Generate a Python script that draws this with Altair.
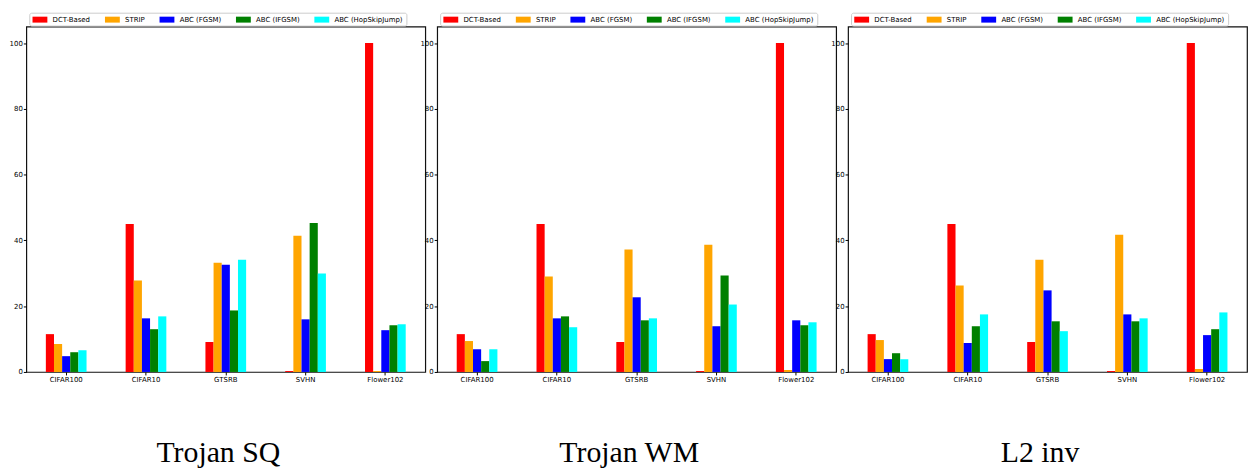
import altair as alt
import pandas as pd

datasets = ["CIFAR100", "CIFAR10", "GTSRB", "SVHN", "Flower102"]
methods = ["DCT-Based", "STRIP", "ABC (FGSM)", "ABC (IFGSM)", "ABC (HopSkipJump)"]
colors = ["#ff0000", "#ffa500", "#0000ff", "#008000", "#00ffff"]
panel_titles = ["Trojan SQ", "Trojan WM", "L2 inv"]

# Trojan SQ
sq_dct = [11.5, 45.0, 9.1, 0.3, 100.0]
sq_strip = [8.5, 27.8, 33.2, 41.4, 0.3]
sq_fgsm = [4.8, 16.3, 32.6, 16.0, 12.7]
sq_ifgsm = [6.0, 13.0, 18.7, 45.3, 14.2]
sq_hop = [6.6, 16.9, 34.1, 29.9, 14.5]

# Trojan WM
wm_dct = [11.5, 45.0, 9.1, 0.3, 100.0]
wm_strip = [9.4, 29.0, 37.2, 38.7, 0.6]
wm_fgsm = [6.9, 16.3, 22.7, 13.9, 15.7]
wm_ifgsm = [3.3, 16.9, 15.7, 29.3, 14.2]
wm_hop = [6.9, 13.6, 16.3, 20.5, 15.1]

# L2 inv
l2_dct = [11.5, 45.0, 9.1, 0.3, 100.0]
l2_strip = [9.7, 26.3, 34.1, 41.7, 0.9]
l2_fgsm = [3.9, 8.8, 24.8, 17.5, 11.2]
l2_ifgsm = [5.7, 13.9, 15.4, 15.4, 13.0]
l2_hop = [3.9, 17.5, 12.4, 16.3, 18.1]

panels = [
    [sq_dct, sq_strip, sq_fgsm, sq_ifgsm, sq_hop],
    [wm_dct, wm_strip, wm_fgsm, wm_ifgsm, wm_hop],
    [l2_dct, l2_strip, l2_fgsm, l2_ifgsm, l2_hop],
]

FONT = "DejaVu Sans"
W, H = 402, 348


def make_panel(series, title):
    rows = []
    for m, vals in zip(methods, series):
        for d, v in zip(datasets, vals):
            rows.append({"dataset": d, "method": m, "value": v})
    df = pd.DataFrame(rows)
    return alt.Chart(df).mark_bar(stroke=None).encode(
        x=alt.X(
            "dataset:N",
            sort=datasets,
            scale=alt.Scale(paddingInner=0.49, paddingOuter=0.245),
            axis=alt.Axis(
                title=title,
                titleFont="Liberation Serif",
                titleFontSize=30,
                titleFontWeight="normal",
                titleColor="#000000",
                titleY=90,
                titleX=W / 2 - 8,
                titleBaseline="alphabetic",
                labelAngle=0,
                labelFont=FONT,
                labelFontSize=7,
                labelColor="#000000",
                labelPadding=1,
                tickSize=3,
                tickColor="#000000",
                domain=False,
            ),
        ),
        xOffset=alt.XOffset(
            "method:N",
            scale=alt.Scale(domain=methods, paddingInner=0, paddingOuter=0),
        ),
        y=alt.Y(
            "value:Q",
            scale=alt.Scale(domain=[0, 105], nice=False),
            axis=alt.Axis(
                title=None,
                values=[0, 20, 40, 60, 80, 100],
                grid=False,
                domain=False,
                labelFont=FONT,
                labelFontSize=7,
                labelColor="#000000",
                labelPadding=1,
                tickSize=3,
                tickColor="#000000",
            ),
        ),
        color=alt.Color(
            "method:N",
            scale=alt.Scale(domain=methods, range=colors),
            legend=alt.Legend(
                title=None,
                orient="none",
                legendX=3,
                legendY=-14,
                direction="horizontal",
                symbolType="M-1,-0.8H3V0.8H-1Z",
                symbolSize=56,
                symbolStrokeWidth=0,
                labelFont=FONT,
                labelFontSize=7,
                labelColor="#000000",
                labelOffset=12.5,
                columnPadding=14,
                padding=3,
                strokeColor="#cccccc",
                fillColor="#ffffff",
                cornerRadius=2,
            ),
        ),
    ).properties(width=W, height=H)


charts = [make_panel(s, t) for s, t in zip(panels, panel_titles)]

chart = alt.hconcat(*charts, spacing=12, bounds="flush").resolve_legend(
    color="independent"
).properties(
    padding={"left": 8.5, "top": 9, "right": 0, "bottom": 0},
    background="#ffffff",
).configure_view(
    stroke="#111111", strokeWidth=1.2
)

chart.save("out.html", embed_options={"renderer": "svg", "actions": False})
